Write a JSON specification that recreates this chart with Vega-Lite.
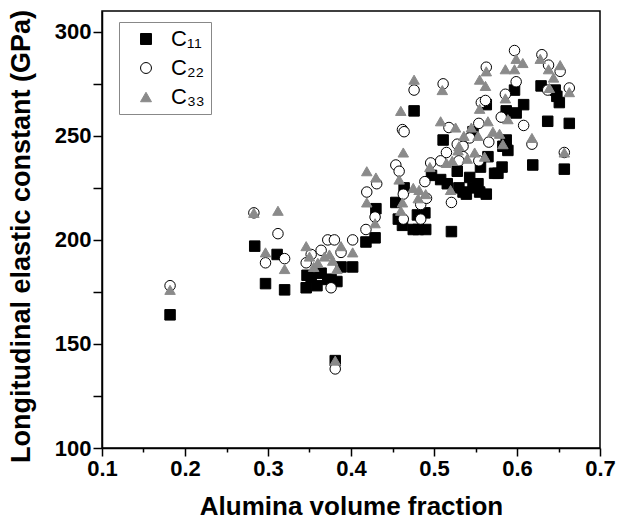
{
"$schema": "https://vega.github.io/schema/vega-lite/v6.json",
"width": 498, "height": 437,
"autosize": "none",
"padding": {"left": 102, "top": 11, "right": 19, "bottom": 75},
"background": "white",
"config": {"view": {"stroke": "black", "strokeWidth": 1.5}, "font": "Liberation Sans"},
"data": {"values": [
{"x":0.182,"y":164,"s":"C₁₁"},{"x":0.284,"y":197,"s":"C₁₁"},{"x":0.297,"y":179,"s":"C₁₁"},{"x":0.311,"y":193,"s":"C₁₁"},{"x":0.320,"y":176,"s":"C₁₁"},{"x":0.346,"y":177,"s":"C₁₁"},{"x":0.347,"y":183,"s":"C₁₁"},{"x":0.352,"y":182,"s":"C₁₁"},{"x":0.359,"y":178,"s":"C₁₁"},{"x":0.364,"y":184,"s":"C₁₁"},{"x":0.372,"y":181,"s":"C₁₁"},{"x":0.376,"y":181,"s":"C₁₁"},{"x":0.383,"y":180,"s":"C₁₁"},{"x":0.388,"y":187,"s":"C₁₁"},{"x":0.402,"y":187,"s":"C₁₁"},{"x":0.381,"y":142,"s":"C₁₁"},{"x":0.418,"y":199,"s":"C₁₁"},{"x":0.429,"y":201,"s":"C₁₁"},{"x":0.430,"y":215,"s":"C₁₁"},{"x":0.454,"y":218,"s":"C₁₁"},{"x":0.457,"y":210,"s":"C₁₁"},{"x":0.462,"y":207,"s":"C₁₁"},{"x":0.464,"y":225,"s":"C₁₁"},{"x":0.476,"y":262,"s":"C₁₁"},{"x":0.475,"y":205,"s":"C₁₁"},{"x":0.481,"y":205,"s":"C₁₁"},{"x":0.490,"y":205,"s":"C₁₁"},{"x":0.480,"y":212,"s":"C₁₁"},{"x":0.489,"y":213,"s":"C₁₁"},{"x":0.497,"y":231,"s":"C₁₁"},{"x":0.508,"y":229,"s":"C₁₁"},{"x":0.516,"y":227,"s":"C₁₁"},{"x":0.511,"y":248,"s":"C₁₁"},{"x":0.521,"y":204,"s":"C₁₁"},{"x":0.528,"y":233,"s":"C₁₁"},{"x":0.530,"y":225,"s":"C₁₁"},{"x":0.535,"y":223,"s":"C₁₁"},{"x":0.539,"y":222,"s":"C₁₁"},{"x":0.543,"y":230,"s":"C₁₁"},{"x":0.547,"y":225,"s":"C₁₁"},{"x":0.553,"y":227,"s":"C₁₁"},{"x":0.555,"y":223,"s":"C₁₁"},{"x":0.556,"y":235,"s":"C₁₁"},{"x":0.563,"y":222,"s":"C₁₁"},{"x":0.565,"y":240,"s":"C₁₁"},{"x":0.563,"y":265,"s":"C₁₁"},{"x":0.547,"y":252,"s":"C₁₁"},{"x":0.573,"y":232,"s":"C₁₁"},{"x":0.577,"y":232,"s":"C₁₁"},{"x":0.582,"y":235,"s":"C₁₁"},{"x":0.587,"y":248,"s":"C₁₁"},{"x":0.589,"y":243,"s":"C₁₁"},{"x":0.587,"y":262,"s":"C₁₁"},{"x":0.597,"y":272,"s":"C₁₁"},{"x":0.599,"y":261,"s":"C₁₁"},{"x":0.608,"y":265,"s":"C₁₁"},{"x":0.619,"y":236,"s":"C₁₁"},{"x":0.629,"y":274,"s":"C₁₁"},{"x":0.637,"y":257,"s":"C₁₁"},{"x":0.648,"y":269,"s":"C₁₁"},{"x":0.651,"y":266,"s":"C₁₁"},{"x":0.657,"y":234,"s":"C₁₁"},{"x":0.663,"y":256,"s":"C₁₁"},{"x":0.646,"y":272,"s":"C₁₁"},{"x":0.583,"y":245,"s":"C₁₁"},
{"x":0.182,"y":178,"s":"C₂₂"},{"x":0.283,"y":213,"s":"C₂₂"},{"x":0.312,"y":203,"s":"C₂₂"},{"x":0.297,"y":189,"s":"C₂₂"},{"x":0.320,"y":191,"s":"C₂₂"},{"x":0.346,"y":189,"s":"C₂₂"},{"x":0.352,"y":193,"s":"C₂₂"},{"x":0.364,"y":195,"s":"C₂₂"},{"x":0.372,"y":200,"s":"C₂₂"},{"x":0.380,"y":200,"s":"C₂₂"},{"x":0.376,"y":177,"s":"C₂₂"},{"x":0.388,"y":194,"s":"C₂₂"},{"x":0.402,"y":200,"s":"C₂₂"},{"x":0.381,"y":138,"s":"C₂₂"},{"x":0.419,"y":223,"s":"C₂₂"},{"x":0.418,"y":205,"s":"C₂₂"},{"x":0.429,"y":211,"s":"C₂₂"},{"x":0.431,"y":227,"s":"C₂₂"},{"x":0.454,"y":236,"s":"C₂₂"},{"x":0.458,"y":233,"s":"C₂₂"},{"x":0.462,"y":253,"s":"C₂₂"},{"x":0.464,"y":252,"s":"C₂₂"},{"x":0.463,"y":222,"s":"C₂₂"},{"x":0.463,"y":210,"s":"C₂₂"},{"x":0.476,"y":272,"s":"C₂₂"},{"x":0.484,"y":217,"s":"C₂₂"},{"x":0.491,"y":220,"s":"C₂₂"},{"x":0.489,"y":228,"s":"C₂₂"},{"x":0.484,"y":210,"s":"C₂₂"},{"x":0.496,"y":237,"s":"C₂₂"},{"x":0.508,"y":238,"s":"C₂₂"},{"x":0.511,"y":275,"s":"C₂₂"},{"x":0.515,"y":242,"s":"C₂₂"},{"x":0.518,"y":254,"s":"C₂₂"},{"x":0.521,"y":218,"s":"C₂₂"},{"x":0.528,"y":246,"s":"C₂₂"},{"x":0.535,"y":240,"s":"C₂₂"},{"x":0.543,"y":249,"s":"C₂₂"},{"x":0.554,"y":256,"s":"C₂₂"},{"x":0.554,"y":238,"s":"C₂₂"},{"x":0.557,"y":266,"s":"C₂₂"},{"x":0.562,"y":267,"s":"C₂₂"},{"x":0.563,"y":283,"s":"C₂₂"},{"x":0.566,"y":247,"s":"C₂₂"},{"x":0.581,"y":259,"s":"C₂₂"},{"x":0.586,"y":270,"s":"C₂₂"},{"x":0.597,"y":291,"s":"C₂₂"},{"x":0.599,"y":276,"s":"C₂₂"},{"x":0.608,"y":255,"s":"C₂₂"},{"x":0.618,"y":246,"s":"C₂₂"},{"x":0.630,"y":289,"s":"C₂₂"},{"x":0.637,"y":272,"s":"C₂₂"},{"x":0.652,"y":281,"s":"C₂₂"},{"x":0.657,"y":242,"s":"C₂₂"},{"x":0.663,"y":273,"s":"C₂₂"},{"x":0.638,"y":284,"s":"C₂₂"},{"x":0.535,"y":245,"s":"C₂₂"},{"x":0.530,"y":238,"s":"C₂₂"},
{"x":0.182,"y":176,"s":"C₃₃"},{"x":0.283,"y":213,"s":"C₃₃"},{"x":0.312,"y":214,"s":"C₃₃"},{"x":0.297,"y":194,"s":"C₃₃"},{"x":0.320,"y":186,"s":"C₃₃"},{"x":0.346,"y":197,"s":"C₃₃"},{"x":0.350,"y":192,"s":"C₃₃"},{"x":0.355,"y":187,"s":"C₃₃"},{"x":0.360,"y":189,"s":"C₃₃"},{"x":0.368,"y":192,"s":"C₃₃"},{"x":0.374,"y":193,"s":"C₃₃"},{"x":0.378,"y":190,"s":"C₃₃"},{"x":0.383,"y":186,"s":"C₃₃"},{"x":0.388,"y":197,"s":"C₃₃"},{"x":0.402,"y":194,"s":"C₃₃"},{"x":0.381,"y":142,"s":"C₃₃"},{"x":0.419,"y":233,"s":"C₃₃"},{"x":0.419,"y":218,"s":"C₃₃"},{"x":0.430,"y":230,"s":"C₃₃"},{"x":0.429,"y":208,"s":"C₃₃"},{"x":0.460,"y":262,"s":"C₃₃"},{"x":0.463,"y":242,"s":"C₃₃"},{"x":0.458,"y":229,"s":"C₃₃"},{"x":0.462,"y":218,"s":"C₃₃"},{"x":0.460,"y":214,"s":"C₃₃"},{"x":0.476,"y":277,"s":"C₃₃"},{"x":0.475,"y":225,"s":"C₃₃"},{"x":0.482,"y":224,"s":"C₃₃"},{"x":0.490,"y":222,"s":"C₃₃"},{"x":0.481,"y":220,"s":"C₃₃"},{"x":0.495,"y":235,"s":"C₃₃"},{"x":0.508,"y":257,"s":"C₃₃"},{"x":0.510,"y":272,"s":"C₃₃"},{"x":0.515,"y":237,"s":"C₃₃"},{"x":0.520,"y":224,"s":"C₃₃"},{"x":0.526,"y":254,"s":"C₃₃"},{"x":0.529,"y":243,"s":"C₃₃"},{"x":0.536,"y":250,"s":"C₃₃"},{"x":0.540,"y":239,"s":"C₃₃"},{"x":0.545,"y":254,"s":"C₃₃"},{"x":0.549,"y":242,"s":"C₃₃"},{"x":0.555,"y":263,"s":"C₃₃"},{"x":0.555,"y":277,"s":"C₃₃"},{"x":0.562,"y":274,"s":"C₃₃"},{"x":0.563,"y":281,"s":"C₃₃"},{"x":0.565,"y":257,"s":"C₃₃"},{"x":0.561,"y":240,"s":"C₃₃"},{"x":0.571,"y":252,"s":"C₃₃"},{"x":0.579,"y":251,"s":"C₃₃"},{"x":0.583,"y":246,"s":"C₃₃"},{"x":0.586,"y":268,"s":"C₃₃"},{"x":0.589,"y":258,"s":"C₃₃"},{"x":0.586,"y":282,"s":"C₃₃"},{"x":0.597,"y":282,"s":"C₃₃"},{"x":0.599,"y":287,"s":"C₃₃"},{"x":0.607,"y":285,"s":"C₃₃"},{"x":0.618,"y":249,"s":"C₃₃"},{"x":0.628,"y":287,"s":"C₃₃"},{"x":0.638,"y":282,"s":"C₃₃"},{"x":0.644,"y":278,"s":"C₃₃"},{"x":0.652,"y":284,"s":"C₃₃"},{"x":0.639,"y":273,"s":"C₃₃"},{"x":0.657,"y":242,"s":"C₃₃"},{"x":0.663,"y":271,"s":"C₃₃"},{"x":0.530,"y":245,"s":"C₃₃"},{"x":0.522,"y":238,"s":"C₃₃"},{"x":0.553,"y":250,"s":"C₃₃"}
]},
"mark": {"type": "point", "filled": true, "size": 110, "strokeWidth": 1, "opacity": 1},
"encoding": {
  "x": {"field": "x", "type": "quantitative",
    "scale": {"domain": [0.1, 0.7], "nice": false, "zero": false},
    "axis": {"title": "Alumina volume fraction",
      "values": [0.1,0.15,0.2,0.25,0.3,0.35,0.4,0.45,0.5,0.55,0.6,0.65,0.7],
      "labelExpr": "round(datum.value*100) % 10 === 0 ? format(datum.value, '.1f') : ''",
      "tickSize": {"condition": {"test": "round(datum.value*100) % 10 === 0", "value": 8}, "value": 4},
      "labelFontSize": 22, "labelFontWeight": "bold", "labelColor": "black", "labelFont": "Liberation Sans",
      "labelPadding": 2, "labelFlush": false, "labelOverlap": false,
      "titleFontSize": 26, "titleFontWeight": "bold", "titleColor": "black", "titleFont": "Liberation Sans",
      "titleY": 58, "titleBaseline": "middle",
      "domainColor": "black", "domainWidth": 1.5, "tickColor": "black", "tickWidth": 1.5, "grid": false}},
  "y": {"field": "y", "type": "quantitative",
    "scale": {"domain": [100, 310], "nice": false, "zero": false},
    "axis": {"title": "Longitudinal elastic constant (GPa)",
      "values": [100,125,150,175,200,225,250,275,300],
      "labelExpr": "datum.value % 50 === 0 ? datum.label : ''",
      "tickSize": 9, "labelPadding": 2,
      "labelFontSize": 22, "labelFontWeight": "bold", "labelColor": "black", "labelFont": "Liberation Sans",
      "labelOverlap": false,
      "titleFontSize": 27, "titleFontWeight": "bold", "titleColor": "black", "titleFont": "Liberation Sans",
      "titleX": -81, "titleY": 225, "titleBaseline": "middle",
      "domainColor": "black", "domainWidth": 1.5, "tickColor": "black", "tickWidth": 1.5, "grid": false}},
  "shape": {"field": "s", "type": "nominal",
    "scale": {"domain": ["C₁₁","C₂₂","C₃₃"], "range": ["square","circle","triangle-up"]},
    "legend": {"title": null, "orient": "none", "legendX": 17, "legendY": 11, "padding": 6,
      "strokeColor": "#888", "fillColor": "white", "symbolSize": 120, "symbolStrokeWidth": 1, "symbolOffset": 10,
      "labelFontSize": 22, "labelFont": "Liberation Sans", "labelColor": "black", "rowPadding": 7, "labelOffset": 14}},
  "fill": {"field": "s", "type": "nominal",
    "scale": {"domain": ["C₁₁","C₂₂","C₃₃"], "range": ["#000000","#ffffff","#8a8a8a"]}},
  "stroke": {"field": "s", "type": "nominal",
    "scale": {"domain": ["C₁₁","C₂₂","C₃₃"], "range": ["#000000","#000000","#8a8a8a"]}}
}
}
